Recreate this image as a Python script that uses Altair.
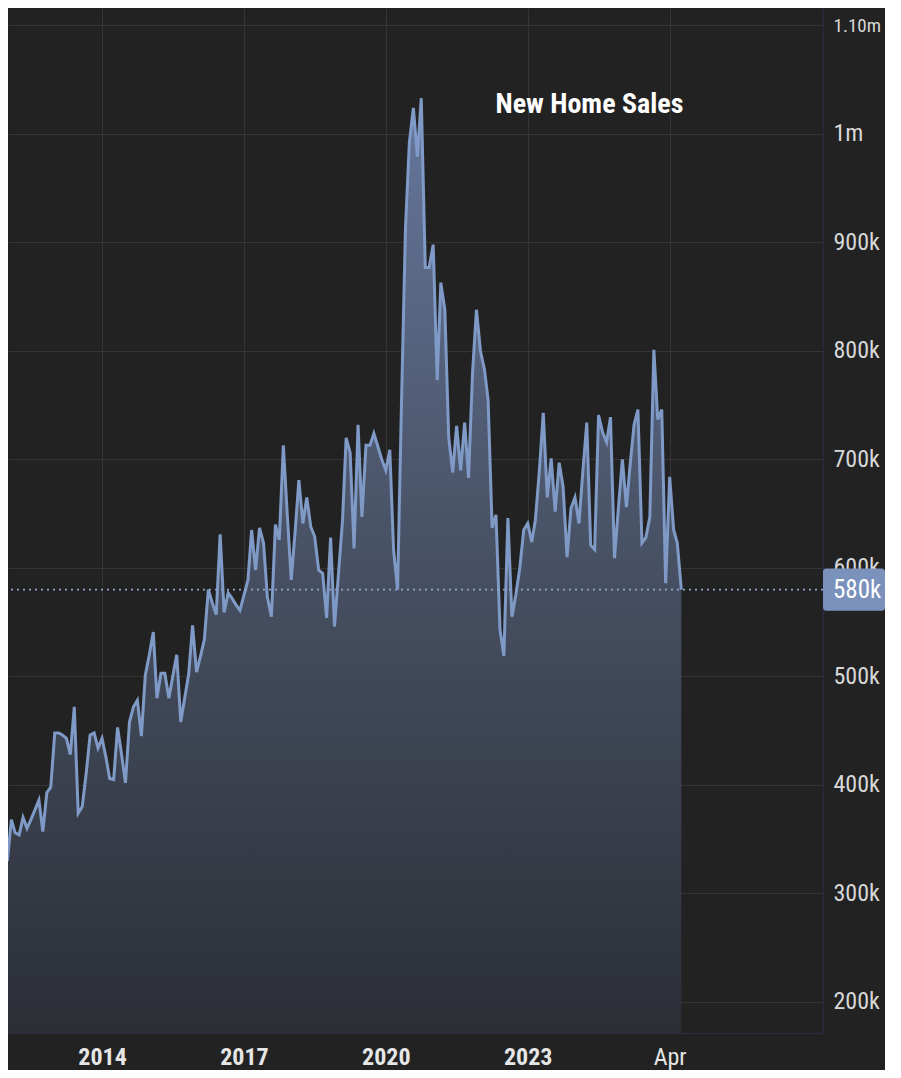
import altair as alt
import pandas as pd

# Monthly new home sales (thousands, SAAR), Jan 2012 .. Apr 2026
sales_k = [
    330, 368, 356, 354, 370, 360, 368, 377, 386, 357, 393, 398,
    448, 448, 446, 443, 428, 472, 374, 380, 411, 446, 448, 434,
    443, 425, 406, 405, 453, 428, 402, 458, 472, 478, 445, 501,
    520, 541, 480, 503, 503, 480, 500, 520, 458, 480, 502, 547,
    504, 519, 534, 580, 568, 557, 631, 559, 577, 572, 566, 561,
    575, 589, 635, 598, 637, 623, 573, 555, 640, 626, 713, 650,
    589, 635, 681, 641, 665, 638, 629, 598, 595, 554, 628, 546,
    595, 644, 720, 706, 618, 732, 647, 713, 713, 724, 712, 700,
    690, 709, 617, 580, 750, 913, 992, 1024, 979, 1033, 877, 877,
    898, 773, 863, 838, 720, 688, 731, 690, 734, 683, 780, 838,
    800, 783, 755, 637, 649, 543, 519, 646, 555, 575, 600, 635,
    641, 624, 644, 690, 743, 665, 701, 652, 697, 675, 610, 655,
    665, 641, 688, 734, 621, 617, 741, 725, 716, 739, 609, 655,
    700, 656, 694, 732, 746, 623, 628, 647, 801, 737, 746, 586,
    684, 635, 623, 580,
]
first_month = "2012-01-01"
x_tick_years = [2014, 2017, 2020, 2023, 2026]
y_ticks = [200000, 300000, 400000, 500000, 600000, 700000, 800000, 900000, 1000000, 1100000]
last_value = 580000
last_label = "580k"
chart_title = "New Home Sales"

dates = pd.date_range(start=first_month, periods=len(sales_k), freq="MS")
df = pd.DataFrame({"date": dates, "sales": [v * 1000 for v in sales_k]})

Y_MIN, Y_MAX = 171400, 1116100
x_scale = alt.Scale(domain=[alt.DateTime(year=2012, month=1, date=6),
                            alt.DateTime(year=2029, month=3, date=30)])
y_scale = alt.Scale(domain=[Y_MIN, Y_MAX], nice=False, zero=False)

FONT = "Liberation Sans Narrow, Roboto Condensed, DejaVu Sans Condensed, Liberation Sans, sans-serif"

x_axis = alt.Axis(
    values=[alt.DateTime(year=y, month=1, date=1) for y in x_tick_years],
    labelExpr="year(datum.value) == 2026 ? 'Apr' : timeFormat(datum.value, '%Y')",
    labelFontWeight={"condition": {"test": "year(datum.value) == 2026", "value": "normal"}, "value": "bold"},
    title=None, ticks=False, labelPadding=12, labelFontSize=24, labelFont=FONT,
    labelColor="#e6e6e6", grid=True, gridColor="#353535", gridWidth=1,
    domain=True, domainColor="#2a2944", domainWidth=1.5,
)
y_axis = alt.Axis(
    orient="right", values=y_ticks,
    labelExpr="datum.value >= 1100000 ? '1.10m' : (datum.value >= 1000000 ? '1m' : (datum.value / 1000) + 'k')",
    labelFontSize={"condition": {"test": "datum.value >= 1100000", "value": 19}, "value": 24},
    title=None, ticks=False, labelPadding=10, labelFont=FONT,
    labelColor="#d8d8d8", grid=True, gridColor="#353535", gridWidth=1,
    domain=True, domainColor="#2a2944", domainWidth=1.5,
)

gradient = alt.Gradient(
    gradient="linear",
    stops=[alt.GradientStop(color="#2b2e35", offset=0),
           alt.GradientStop(color="#4a5468", offset=0.55),
           alt.GradientStop(color="#66779c", offset=1)],
    x1=1, x2=1, y1=1, y2=0,
)

base = alt.Chart(df)
area = base.mark_area(color=gradient, clip=True).encode(
    x=alt.X("date:T", scale=x_scale, axis=x_axis),
    y=alt.Y("sales:Q", scale=y_scale, axis=y_axis),
    y2=alt.datum(Y_MIN),
)
line = base.mark_line(color="#7f9ac6", strokeWidth=3, clip=True).encode(
    x="date:T", y="sales:Q",
)

ann = pd.DataFrame({"value": [last_value], "lo": [last_value - 19400],
                    "hi": [last_value + 19400], "label": [last_label]})
rule = alt.Chart(ann).mark_rule(color="#8ea3c9", strokeWidth=1.6, strokeDash=[2, 4]).encode(
    y="value:Q")
box = alt.Chart(ann).mark_rect(color="#7a91bc", cornerRadius=3).encode(
    x=alt.value(815), x2=alt.value(877), y="lo:Q", y2="hi:Q")
box_text = alt.Chart(ann).mark_text(
    color="#ffffff", fontSize=25, font=FONT, align="left", baseline="middle"
).encode(x=alt.value(825), y="value:Q", text="label:N")

title_df = pd.DataFrame({"t": [chart_title]})
title = alt.Chart(title_df).mark_text(
    color="#ffffff", fontSize=28, fontWeight="bold", font=FONT,
    align="center", baseline="middle"
).encode(
    x=alt.datum(alt.DateTime(year=2024, month=4, date=22)),
    y=alt.datum(1026800),
    text="t:N",
)

chart = alt.layer(area, line, rule, box, box_text, title).properties(
    width=815, height=1025,
    background="#222222",
    autosize=alt.AutoSizeParams(type="none"),
    padding={"left": 0, "top": 0, "right": 62, "bottom": 37},
).configure_view(stroke=None)

chart.save("out.html", embed_options={"renderer": "svg", "actions": False})
